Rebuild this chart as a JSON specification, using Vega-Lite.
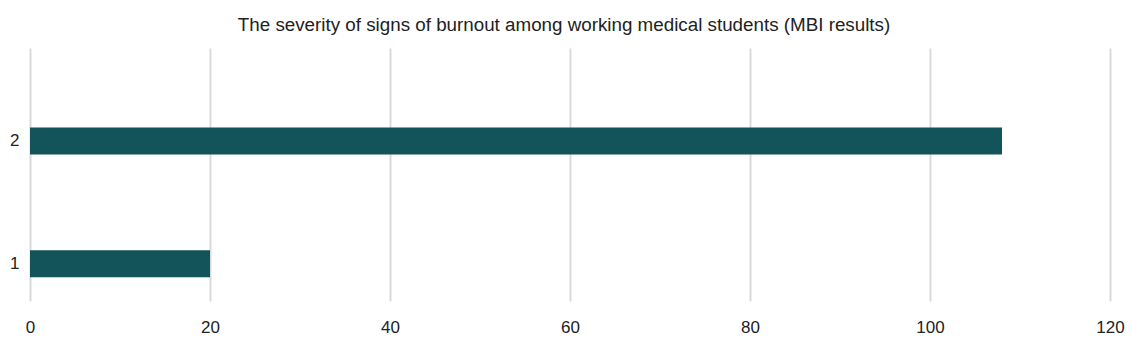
{
  "$schema": "https://vega.github.io/schema/vega-lite/v6.json",
  "width": 1080,
  "height": 253,
  "autosize": {"type": "none"},
  "padding": {"left": 30, "top": 48, "right": 22, "bottom": 43},
  "background": "white",
  "title": {
    "text": "The severity of signs of burnout among working medical students (MBI results)",
    "font": "Liberation Sans",
    "fontSize": 18.8,
    "fontWeight": "normal",
    "color": "#222222",
    "anchor": "middle",
    "offset": 13,
    "dx": -6
  },
  "config": {
    "view": {"stroke": null},
    "axis": {"labelFont": "Liberation Sans", "labelColor": "#222222"}
  },
  "data": {
    "values": [
      {"category": "2", "value": 108},
      {"category": "1", "value": 20}
    ]
  },
  "mark": {"type": "bar", "color": "#125459"},
  "encoding": {
    "y": {
      "field": "category",
      "type": "nominal",
      "sort": ["2", "1"],
      "scale": {"paddingInner": 0.78, "paddingOuter": 0.42, "align": 0.77},
      "axis": {
        "title": null,
        "ticks": false,
        "domain": false,
        "grid": false,
        "labelFontSize": 17,
        "labelPadding": 11
      }
    },
    "x": {
      "field": "value",
      "type": "quantitative",
      "scale": {"domain": [0, 120], "nice": false},
      "axis": {
        "title": null,
        "values": [0, 20, 40, 60, 80, 100, 120],
        "ticks": false,
        "domain": false,
        "grid": true,
        "gridColor": "#d9d9d9",
        "gridWidth": 2,
        "labelFontSize": 17,
        "labelPadding": 18,
        "labelFlush": false
      }
    }
  }
}
